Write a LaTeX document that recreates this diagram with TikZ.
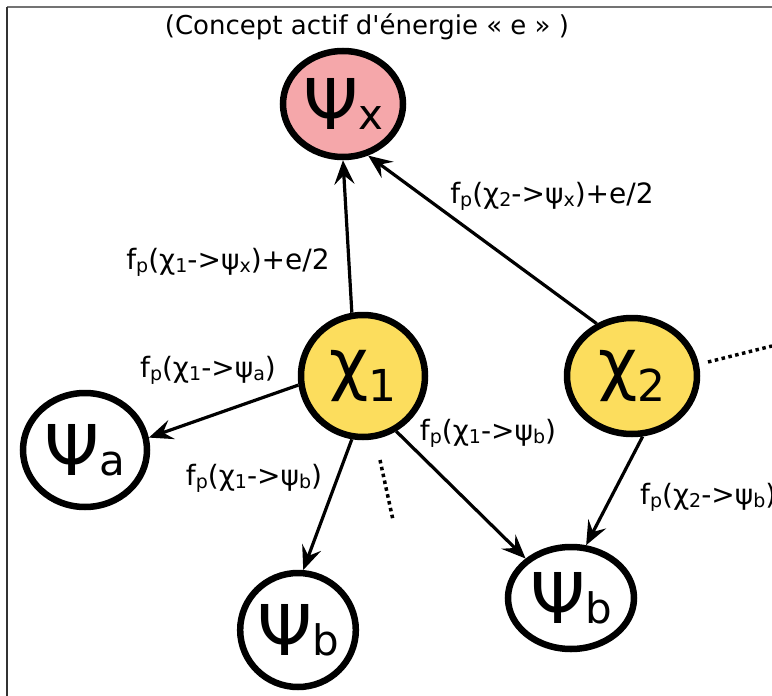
\documentclass[tikz,border=0pt]{standalone}
\usepackage{fontspec}
\setmainfont{DejaVu Sans}
\usetikzlibrary{shapes.geometric,arrows.meta}
\newcommand\lsb[1]{\raisebox{-3pt}{\fontsize{19}{19}\selectfont #1}}
\newcommand\nsb[1]{{\fontsize{42}{42}\selectfont #1}}
\newcommand\csb[1]{\raisebox{-14pt}{\fontsize{44}{44}\selectfont #1}}
\newcommand\bigpsi[1]{{\fontsize{70}{70}\selectfont Ψ}\nsb{#1}}
\newcommand\bigchi[1]{{\fontsize{68}{68}\selectfont χ}\csb{#1}}
\definecolor{pinkfill}{RGB}{245,167,170}
\definecolor{yellowfill}{RGB}{252,221,93}
\begin{document}
\begin{tikzpicture}[x=1pt,y=-1pt,
  concept/.style={ellipse,draw=black,line width=6.5pt,inner sep=0pt,outer sep=3.25pt},
  link/.style={line width=3.2pt,-{Stealth[length=24pt,width=20pt,inset=9pt]}},
  dots/.style={line width=3.5pt,dash pattern=on 3.5pt off 3.5pt},
  lbl/.style={inner sep=0pt,font=\fontsize{28}{28}\selectfont}]
\useasboundingbox (0,0) rectangle (772,696);
\fill[white] (0,0) rectangle (772,696);
% frame
\draw[line width=1.5pt,black!55] (7,7) -- (772,7);
\draw[line width=1.5pt,black!80] (7,7) -- (7,696);
% title
\node[inner sep=0pt,font=\fontsize{26}{26}\selectfont] (title) at (367,27) {(Concept actif d\textquotesingle énergie « e » )};
% nodes
\node[concept,fill=pinkfill,minimum width=120pt,minimum height=106pt] (psix) at (343,104) {\bigpsi{x}};
\node[concept,fill=yellowfill,minimum width=124pt,minimum height=122pt] (chi1) at (363,376) {\bigchi{1}};
\node[concept,fill=yellowfill,minimum width=130pt,minimum height=116pt] (chi2) at (632,376) {\bigchi{2}};
\node[concept,fill=white,minimum width=124pt,minimum height=114pt] (psia) at (85,450) {\bigpsi{a}};
\node[concept,fill=white,minimum width=110pt,minimum height=114pt] (psib1) at (298,630) {\bigpsi{b}};
\node[concept,fill=white,minimum width=126pt,minimum height=102pt] (psib2) at (571,598) {\bigpsi{b}};
% connectors
\draw[link] (chi1.100) -- (psix.-90);
\draw[link] (chi2.124) -- (psix.-64);
\draw[link] (chi1.-172) -- (psia.11);
\draw[link] (chi1.-100) -- (psib1.85);
\draw[link] (chi1.-59) -- (psib2.139);
\draw[link] (chi2.-80) -- (psib2.74);
% dotted continuations
\coordinate (d1a) at (708,362);
\coordinate (d1b) at (772,346);
\coordinate (d2a) at (380,460);
\coordinate (d2b) at (393,520);
\draw[dots] (d1a) -- (d1b);
\draw[dots] (d2a) -- (d2b);
% labels
\node[lbl] (lx2) at (552,196) {f\lsb{p}(χ\lsb{2}->ψ\lsb{x})+e/2};
\node[lbl] (lx1) at (228,262) {f\lsb{p}(χ\lsb{1}->ψ\lsb{x})+e/2};
\node[lbl] (la) at (208,370) {f\lsb{p}(χ\lsb{1}->ψ\lsb{a})};
\node[lbl] (lb1) at (254,478) {f\lsb{p}(χ\lsb{1}->ψ\lsb{b})};
\node[lbl] (lb2) at (488,433) {f\lsb{p}(χ\lsb{1}->ψ\lsb{b})};
\node[lbl,anchor=west] (lb3) at (640,497) {f\lsb{p}(χ\lsb{2}->ψ\lsb{b})};
\end{tikzpicture}
\end{document}
